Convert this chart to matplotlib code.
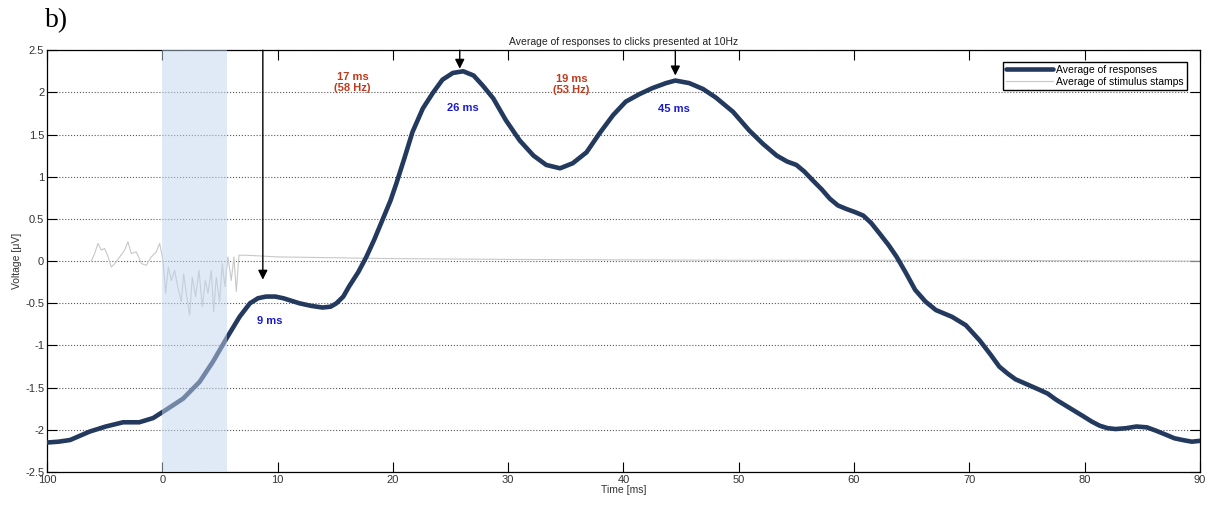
import matplotlib
matplotlib.use('Agg')
import matplotlib.pyplot as plt

# averaged response
resp_t = [-10, -9, -8, -6.3, -4.9, -3.4, -2.0, -0.8, 0.35, 1.8, 3.24, 4.4, 5.55, 6.7, 7.6,
          8.3, 9.0, 9.8, 10.5, 11.2, 11.9, 12.9, 13.9, 14.6, 15.1, 15.7, 16.2, 17.0, 17.7, 18.4,
          19.1, 19.8, 20.3, 21.0, 21.7, 22.6, 23.5, 24.3, 25.2, 26.1, 27.0, 27.8, 28.7, 29.8,
          31.0, 32.2, 33.3, 34.5, 35.6, 36.8, 37.9, 39.1, 40.2, 41.4, 42.5, 43.7, 44.5, 45.7,
          46.9, 48.0, 49.5, 50.9, 52.1, 53.3, 54.2, 55.0, 55.7, 56.4, 57.2, 57.9, 58.6, 59.3,
          60.1, 60.8, 61.5, 62.2, 63.0, 63.7, 64.5, 65.3, 66.2, 67.1, 68.5, 69.7,
          70.9, 71.8, 72.6, 73.3, 74.0, 75.0, 76.0, 76.8, 77.5, 78.7, 79.9, 80.6, 81.3, 82.0,
          82.7, 83.6, 84.5, 85.4, 86.2, 87.1, 87.8, 88.5, 89.3, 90]
resp_v = [-2.15, -2.14, -2.12, -2.02, -1.96, -1.91, -1.91, -1.86, -1.76, -1.63, -1.43, -1.19, -0.92, -0.66, -0.50,
          -0.44, -0.42, -0.42, -0.44, -0.47, -0.50, -0.53, -0.55, -0.54, -0.50, -0.42, -0.30, -0.13, 0.05, 0.26,
          0.49, 0.72, 0.92, 1.22, 1.53, 1.81, 2.00, 2.15, 2.23, 2.25, 2.20, 2.08, 1.93, 1.67,
          1.43, 1.25, 1.14, 1.10, 1.16, 1.29, 1.51, 1.73, 1.89, 1.98, 2.05, 2.11, 2.14, 2.11,
          2.04, 1.94, 1.77, 1.55, 1.39, 1.25, 1.18, 1.14, 1.06, 0.96, 0.85, 0.74, 0.66, 0.62,
          0.58, 0.54, 0.45, 0.33, 0.19, 0.05, -0.14, -0.34, -0.48, -0.58, -0.66, -0.76,
          -0.94, -1.10, -1.25, -1.33, -1.40, -1.46, -1.52, -1.57, -1.64, -1.74, -1.84, -1.90, -1.95, -1.98,
          -1.99, -1.98, -1.96, -1.97, -2.01, -2.06, -2.10, -2.12, -2.14, -2.13]

# averaged stimulus stamp
stim_t = [-6.16, -5.87, -5.58, -5.29, -5.0, -4.7, -4.42, -4.13, -3.7, -3.27, -2.98, -2.69, -2.26,
          -1.8, -1.39, -0.96, -0.52, -0.23, 0.06, 0.29, 0.52, 0.78, 1.07, 1.36, 1.65, 1.85, 2.08,
          2.37, 2.6, 2.89, 3.18, 3.47, 3.73, 3.96, 4.25, 4.45, 4.68, 4.97, 5.2, 5.43, 5.69, 5.98,
          6.21, 6.42, 6.65, 7.28, 10, 15, 20, 30, 50, 70, 90]
stim_v = [0.0, 0.09, 0.21, 0.13, 0.15, 0.05, -0.07, -0.03, 0.05, 0.13, 0.23, 0.09, 0.11,
          -0.03, -0.05, 0.05, 0.11, 0.21, 0.01, -0.38, -0.07, -0.23, -0.11, -0.32, -0.48, -0.15, -0.38,
          -0.64, -0.19, -0.42, -0.11, -0.54, -0.23, -0.38, -0.11, -0.60, -0.19, -0.48, -0.03, -0.30, 0.05, -0.23,
          0.05, -0.36, 0.07, 0.07, 0.05, 0.04, 0.03, 0.02, 0.01, 0.01, 0.0]

xticks = [-10, 0, 10, 20, 30, 40, 50, 60, 70, 80, 90]
xticklabels = ['100', '0', '10', '20', '30', '40', '50', '60', '70', '80', '90']
yticks = [-2.5, -2, -1.5, -1, -0.5, 0, 0.5, 1, 1.5, 2, 2.5]
yticklabels = ['-2.5', '-2', '-1.5', '-1', '-0.5', '0', '0.5', '1', '1.5', '2', '2.5']

# peak arrows: x, arrow tip y
arrow_x = [8.72, 25.8, 44.5]
arrow_tip = [-0.22, 2.28, 2.20]
peak_labels = ['9 ms', '26 ms', '45 ms']
peak_lab_x = [9.3, 26.1, 44.4]
peak_lab_y = [-0.71, 1.82, 1.80]
interval_labels = ['17 ms\n(58 Hz)', '19 ms\n(53 Hz)']
interval_x = [16.5, 35.5]
interval_y = [2.12, 2.09]

plt.rcParams['font.family'] = ['Liberation Sans', 'DejaVu Sans']

fig = plt.figure(figsize=(12.12, 5.12), dpi=100)
ax = fig.add_axes([0.0388, 0.078, 0.9512, 0.824])

ax.plot(stim_t, stim_v, color='#c8c8c8', linewidth=0.8, label='Average of stimulus stamps', zorder=2)
ax.plot(resp_t, resp_v, color='#233a5e', linewidth=3.3, label='Average of responses', zorder=3,
        solid_joinstyle='round', solid_capstyle='round')
ax.axvspan(0, 5.58, color='#c2d4ee', alpha=0.5, linewidth=0, zorder=4)

for x, tip in zip(arrow_x, arrow_tip):
    ax.annotate('', xy=(x, tip), xytext=(x, 2.5),
                arrowprops=dict(arrowstyle='-|>', color='k', lw=1, mutation_scale=14,
                                shrinkA=0, shrinkB=0), zorder=5)

for s, x, y in zip(peak_labels, peak_lab_x, peak_lab_y):
    ax.text(x, y, s, color='#1a1acc', fontsize=8, fontweight='bold', ha='center', va='center')
for s, x, y in zip(interval_labels, interval_x, interval_y):
    ax.text(x, y, s, color='#c0391b', fontsize=8, fontweight='bold', ha='center', va='center',
            linespacing=1.1)

ax.set_xlim(-10, 90)
ax.set_ylim(-2.5, 2.5)
ax.set_xticks(xticks)
ax.set_xticklabels(xticklabels)
ax.set_yticks(yticks)
ax.set_yticklabels(yticklabels)
ax.tick_params(direction='in', length=7, width=0.8, top=True, right=True,
               labelsize=8, labelcolor='#333333', pad=2)
ax.yaxis.grid(True, linestyle=':', color='0.35', linewidth=0.8)
for sp in ax.spines.values():
    sp.set_linewidth(0.9)

ax.set_title('Average of responses to clicks presented at 10Hz', fontsize=7.5, pad=4, color='#222222')
ax.set_xlabel('Time [ms]', fontsize=7.5, labelpad=0, color='#333333')
ax.set_ylabel('Voltage [\u03bcV]', fontsize=7.5, labelpad=2, color='#333333')

handles, labels = ax.get_legend_handles_labels()
ax.legend(handles[::-1], labels[::-1], loc='upper right', bbox_to_anchor=(0.9935, 0.985),
          fontsize=7.5, fancybox=False, edgecolor='k', framealpha=1, handlelength=4.5,
          borderpad=0.3, labelspacing=0.2, handletextpad=0.3)

fig.text(0.037, 0.985, 'b)', fontsize=20, family=['Liberation Serif', 'DejaVu Serif'],
         va='top', ha='left')

fig.savefig('out.png', dpi=100)
